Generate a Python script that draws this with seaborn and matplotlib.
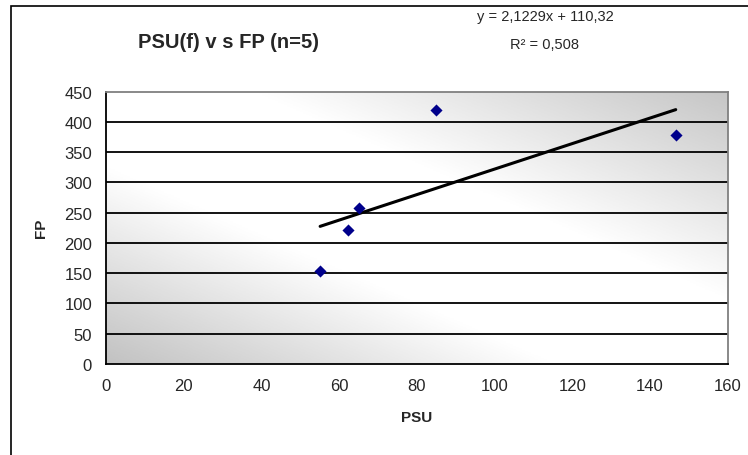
import numpy as np
import pandas as pd
import matplotlib
matplotlib.use("Agg")
import matplotlib.pyplot as plt
from matplotlib.colors import LinearSegmentedColormap
from matplotlib.patches import Rectangle
import seaborn as sns

# data
psu = [55.1, 62.4, 65.2, 84.9, 146.6]
fp = [153, 221, 257, 419, 379]
x_ticks = [0, 20, 40, 60, 80, 100, 120, 140, 160]
y_ticks = [0, 50, 100, 150, 200, 250, 300, 350, 400, 450]
title = "PSU(f) v s FP (n=5)"
eq_line1 = "y = 2,1229x + 110,32"
eq_line2 = "R² = 0,508"

df = pd.DataFrame({"PSU": psu, "FP": fp})

sns.set_style("white")
plt.rcParams["font.family"] = ["Liberation Sans Narrow", "Liberation Sans", "DejaVu Sans"]

fig = plt.figure(figsize=(7.48, 4.56), dpi=100)
ax = fig.add_axes([0.1417, 0.1996, 0.8313, 0.5974])

# diagonal grey-white-grey fill of the plot area
xmax, ymax = x_ticks[-1], y_ticks[-1]
uu, vv = np.meshgrid(np.linspace(0, 1, 400), np.linspace(0, 1, 200))
t = uu + vv
cmap = LinearSegmentedColormap.from_list(
    "bg", [(0.0, "#c2c2c2"), (0.36, "#ffffff"), (0.62, "#ffffff"), (1.0, "#c6c6c6")])
ax.imshow(t, cmap=cmap, vmin=0, vmax=2, origin="lower", aspect="auto",
          extent=[0, xmax, 0, ymax], zorder=0, interpolation="bilinear")

for yv in y_ticks[1:-1]:
    ax.axhline(yv, color="black", lw=1.3, zorder=1)

sns.regplot(data=df, x="PSU", y="FP", ax=ax, ci=None, truncate=True,
            marker="D", scatter_kws={"s": 38, "color": "#00008b", "alpha": 1,
                                     "zorder": 3, "linewidths": 0},
            line_kws={"color": "black", "lw": 2.2, "zorder": 2})

ax.set_xlim(0, xmax)
ax.set_ylim(0, ymax)
ax.set_xticks(x_ticks)
ax.set_yticks(y_ticks)
ax.tick_params(axis="both", direction="out", length=4, width=1, color="black",
               labelsize=12, pad=6)
ax.set_xlabel("PSU", fontsize=11, fontweight="bold", labelpad=12)
ax.set_ylabel("FP", fontsize=11, fontweight="bold", labelpad=12)

for s in ["left", "bottom"]:
    ax.spines[s].set_color("black")
    ax.spines[s].set_linewidth(1.3)
for s in ["top", "right"]:
    ax.spines[s].set_color("#808080")
    ax.spines[s].set_linewidth(1.3)

fig.text(228 / 748, 1 - 42 / 456, title, ha="center", va="center",
         fontsize=14.5, fontweight="bold")
fig.text(545 / 748, 1 - 17 / 456, eq_line1, ha="center", va="center", fontsize=10.5)
fig.text(545 / 748, 1 - 45 / 456, eq_line2, ha="center", va="center", fontsize=10.5)

# outer chart border (runs off the right and bottom edges)
fig.patches.append(Rectangle((11 / 748, -0.05), 1.0, 1 - 7 / 456 + 0.05,
                             transform=fig.transFigure, fill=False,
                             edgecolor="black", lw=1.2))

fig.savefig("out.png", dpi=100)
